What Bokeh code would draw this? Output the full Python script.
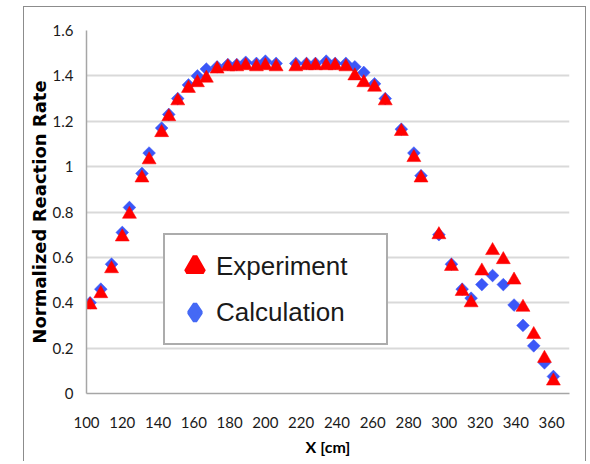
from bokeh.plotting import figure
from bokeh.models import Range1d, FixedTicker, Legend, LegendItem
from bokeh.embed import file_html
from bokeh.resources import INLINE

x_cm = [102, 108, 114, 120, 124, 131, 135, 142, 146, 151, 157, 162, 167, 173, 179,
        184, 189, 195, 200, 206, 217, 223, 228, 234, 239, 245, 250, 255, 261, 267,
        276, 283, 287, 297, 304, 310, 315, 321, 327, 333, 339, 344, 350, 356, 361]
experiment = [0.39, 0.44, 0.55, 0.69, 0.79, 0.95, 1.03, 1.15, 1.22, 1.29, 1.345, 1.37, 1.39, 1.43, 1.44,
              1.44, 1.445, 1.44, 1.445, 1.44, 1.44, 1.445, 1.445, 1.445, 1.445, 1.44, 1.40, 1.37, 1.35, 1.29,
              1.155, 1.04, 0.95, 0.70, 0.56, 0.45, 0.40, 0.54, 0.63, 0.59, 0.50, 0.38, 0.26, 0.155, 0.055]
calculation = [0.40, 0.46, 0.57, 0.71, 0.82, 0.97, 1.06, 1.17, 1.23, 1.30, 1.36, 1.40, 1.43, 1.44, 1.45,
               1.45, 1.46, 1.455, 1.465, 1.455, 1.455, 1.455, 1.455, 1.465, 1.455, 1.455, 1.44, 1.415, 1.365, 1.30,
               1.165, 1.06, 0.96, 0.70, 0.57, 0.46, 0.42, 0.48, 0.52, 0.48, 0.39, 0.30, 0.21, 0.135, 0.075]
x_ticks = [100, 120, 140, 160, 180, 200, 220, 240, 260, 280, 300, 320, 340, 360]
y_ticks = [0, 0.2, 0.4, 0.6, 0.8, 1.0, 1.2, 1.4, 1.6]
y_tick_labels = ["0", "0.2", "0.4", "0.6", "0.8", "1", "1.2", "1.4", "1.6"]

RED = "#ff0000"
BLUE = "#3b57f7"
NAN = float("nan")

p = figure(width=563, height=455, output_backend="svg", toolbar_location=None,
           x_range=Range1d(100, 370), y_range=Range1d(0, 1.6),
           min_border_left=62, min_border_right=18, min_border_top=23, min_border_bottom=69)
p.margin = (6, 0, 0, 23)
p.styles = {"border-top": "1px solid #8c8c8c", "border-left": "1px solid #8c8c8c",
            "border-right": "1px solid #8c8c8c"}
p.outline_line_color = None
p.background_fill_color = "white"
p.border_fill_color = "white"

p.xgrid.visible = False
p.ygrid.ticker = FixedTicker(ticks=y_ticks)
p.ygrid.grid_line_color = "#d9d9d9"
p.ygrid.grid_line_width = 2

p.xaxis.ticker = FixedTicker(ticks=x_ticks)
p.yaxis.ticker = FixedTicker(ticks=y_ticks)
p.yaxis.major_label_overrides = {t: l for t, l in zip(y_ticks, y_tick_labels)}
for ax in (p.xaxis, p.yaxis):
    ax.axis_line_color = "#a6a6a6"
    ax.axis_line_width = 1.5
    ax.major_tick_line_color = None
    ax.minor_tick_line_color = None
    ax.major_tick_out = 0
    ax.major_tick_in = 0
    ax.minor_tick_out = 0
    ax.minor_tick_in = 0
    ax.major_label_text_font = "Lato"
    ax.major_label_text_font_size = "15px"
    ax.major_label_text_color = "#1a1a1a"
    ax.axis_label_text_color = "#000000"
    ax.axis_label_text_font_style = "bold"
p.xaxis.major_label_standoff = 23
p.yaxis.major_label_standoff = 13
p.xaxis.axis_label = "X [cm]"
p.xaxis.axis_label_text_font = "Lato"
p.xaxis.axis_label_text_font_size = "16px"
p.xaxis.axis_label_standoff = 6
p.yaxis.axis_label = "Normalized Reaction Rate"
p.yaxis.axis_label_text_font = "DejaVu Sans"
p.yaxis.axis_label_text_font_size = "18px"
p.yaxis.axis_label_standoff = 0

r_calc = p.scatter(x_cm, calculation, marker="square", angle=0.785398, size=9,
                   fill_color=BLUE, line_color=BLUE, line_width=0.5)
r_exp = p.scatter(x_cm, experiment, marker="triangle", size=14,
                  fill_color=RED, line_color=RED, line_width=0.5)

# legend-only proxies (a single NaN point, never drawn) so key symbols can be larger
key_exp = p.scatter([NAN], [NAN], marker="triangle", fill_color=RED, line_color=RED, line_width=5)
key_calc = p.scatter([NAN], [NAN], marker="diamond", fill_color="#4569f5", line_color="#4569f5",
                     line_width=4.5)

legend = Legend(items=[LegendItem(label="Experiment", renderers=[key_exp]),
                       LegendItem(label="Calculation", renderers=[key_calc])],
                location=(77, 48), orientation="vertical",
                glyph_width=43, glyph_height=46, spacing=0, padding=8, margin=0,
                label_standoff=0, label_width=162,
                label_text_font="Liberation Sans", label_text_font_size="26px",
                label_text_color="#1a1a1a",
                border_line_color="#595959", border_line_width=2,
                background_fill_color="white", background_fill_alpha=1.0)
p.add_layout(legend)

open("out.html", "w").write(file_html(p, INLINE))
